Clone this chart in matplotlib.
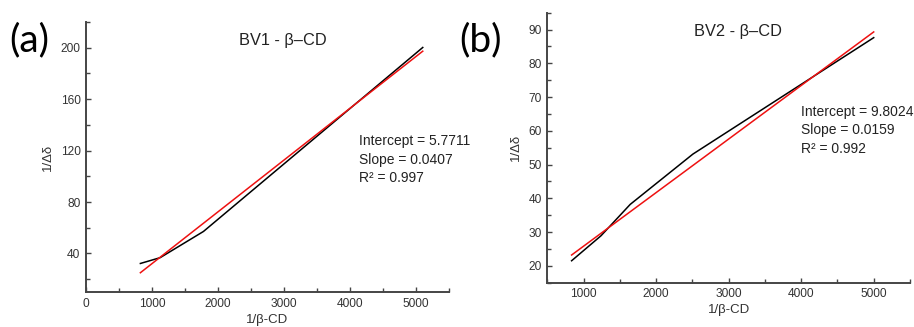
import numpy as np
import matplotlib as mpl
mpl.use('Agg')
import matplotlib.pyplot as plt
from matplotlib.ticker import MultipleLocator

# panel (a): BV1 - beta-CD
a_x = [824, 1123, 1780, 5103]
a_y = [32.2, 36.7, 57.1, 200.2]
a_fit_x = [824, 5103]
a_fit_y = [25.0, 197.3]
a_stats = ['Intercept = 5.7711', 'Slope = 0.0407', 'R\u00b2 = 0.997']

# panel (b): BV2 - beta-CD
b_x = [835, 1240, 1643, 2507, 5000]
b_y = [21.5, 28.9, 38.2, 53.1, 87.6]
b_fit_x = [835, 5000]
b_fit_y = [23.2, 89.3]
b_stats = ['Intercept = 9.8024', 'Slope = 0.0159', 'R\u00b2 = 0.992']

mpl.rcParams['font.family'] = ['Liberation Sans', 'DejaVu Sans']
grey = '#454545'

fig = plt.figure(figsize=(9.14, 3.27), dpi=100, facecolor='w')


def setup(ax, xlim, ylim, ymaj, ymin):
    ax.set_xlim(*xlim)
    ax.set_ylim(*ylim)
    for s in ['top', 'right']:
        ax.spines[s].set_visible(False)
    for s in ['left', 'bottom']:
        ax.spines[s].set_color(grey)
        ax.spines[s].set_linewidth(1.4)
    ax.xaxis.set_major_locator(MultipleLocator(1000))
    ax.xaxis.set_minor_locator(MultipleLocator(500))
    ax.yaxis.set_major_locator(MultipleLocator(ymaj))
    ax.yaxis.set_minor_locator(MultipleLocator(ymin))
    ax.tick_params(which='both', direction='in', color=grey, width=1.0,
                   labelsize=8.6, labelcolor='#333333')
    ax.tick_params(which='major', length=3.8, pad=4)
    ax.tick_params(which='minor', length=2.6)
    ax.set_xlabel('1/\u03b2-CD', fontsize=9.5, color='#333333', labelpad=3)
    ax.set_ylabel('1/\u0394\u03b4', fontsize=9.5, color='#333333', labelpad=5)


# (a)
ax1 = fig.add_axes([0.0941, 0.107, 0.3971, 0.8257])
setup(ax1, (0, 5500), (10, 220), 40, 20)
ax1.plot(a_x, a_y, color='k', lw=1.1)
ax1.plot(a_fit_x, a_fit_y, color='#ee1111', lw=1.1)
ax1.text(0.543, 0.93, 'BV1 - \u03b2\u2013CD', transform=ax1.transAxes,
         fontsize=11.8, ha='center', va='center', color='#222222')
ax1.text(0.752, 0.49, '\n'.join(a_stats), transform=ax1.transAxes,
         fontsize=10, ha='left', va='center', color='#222222',
         linespacing=1.4, clip_on=False)
fig.text(0.01, 0.878, '(a)', fontsize=28, family='Lato', ha='left', va='center')

# (b)
ax2 = fig.add_axes([0.5988, 0.1355, 0.3968, 0.8257])
setup(ax2, (500, 5500), (15, 95), 10, 5)
ax2.plot(b_x, b_y, color='k', lw=1.1)
ax2.plot(b_fit_x, b_fit_y, color='#ee1111', lw=1.1)
ax2.text(0.526, 0.93, 'BV2 - \u03b2\u2013CD', transform=ax2.transAxes,
         fontsize=11.8, ha='center', va='center', color='#222222')
ax2.text(0.70, 0.565, '\n'.join(b_stats), transform=ax2.transAxes,
         fontsize=10, ha='left', va='center', color='#222222',
         linespacing=1.4, clip_on=False)
fig.text(0.503, 0.878, '(b)', fontsize=28, family='Lato', ha='left', va='center')

plt.savefig('out.png', dpi=100, facecolor='w')
